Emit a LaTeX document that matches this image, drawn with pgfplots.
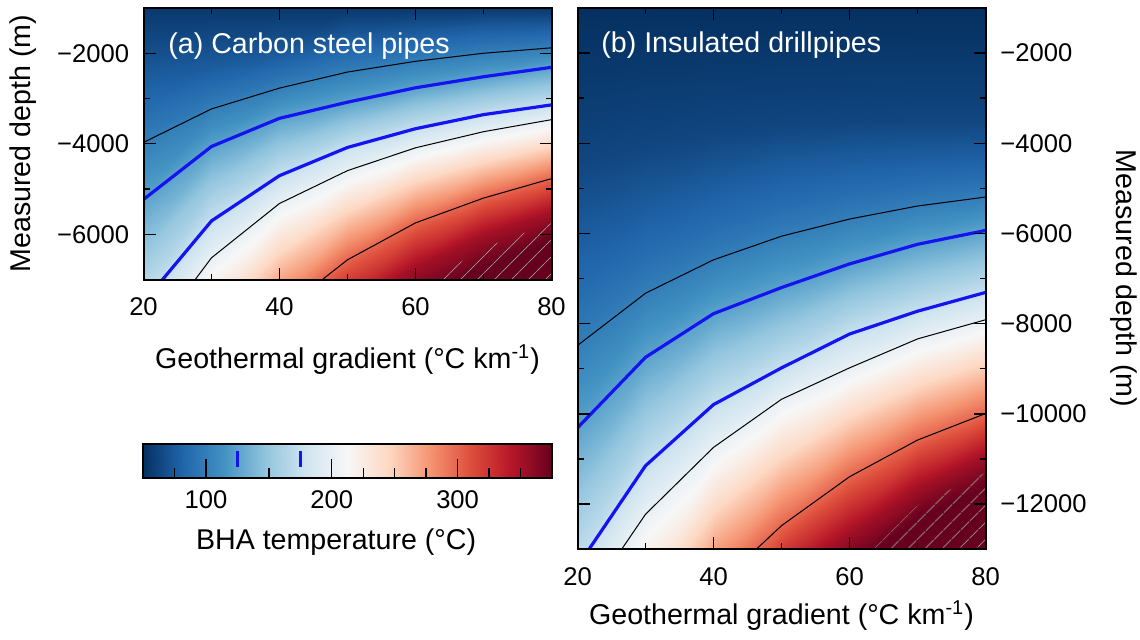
\documentclass[border=0pt]{standalone}
\usepackage{fontspec}
\setmainfont{Liberation Sans}
\usepackage{pgfplots}
\pgfplotsset{compat=1.18}
\usepackage{pgfplotstable}
\usetikzlibrary{patterns.meta}

\pgfplotsset{colormap={rdbur}{rgb255=(5,48,97) rgb255=(33,102,172) rgb255=(67,147,195) rgb255=(146,197,222) rgb255=(209,229,240) rgb255=(247,247,247) rgb255=(253,216,195) rgb255=(245,150,115) rgb255=(222,78,60) rgb255=(182,22,40) rgb255=(103,0,31)}}
\definecolor{cblue}{RGB}{20,20,240}

% Panel (a): each block = one temperature level (depth at x = 20..80)
\pgfplotstableread{
x y T
20 -1000 55
30 -1000 55
40 -1000 55
50 -1000 55
60 -1000 55
70 -1000 55
80 -1000 55
20 -2423 75
30 -2246 75
40 -1985 75
50 -1630 75
60 -1500 75
70 -1403 75
80 -1368 75
20 -3256 87.5
30 -2767 87.5
40 -2402 87.5
50 -2047 87.5
60 -1857 87.5
70 -1716 87.5
80 -1640 87.5
20 -3970 100
30 -3230 100
40 -2770 100
50 -2415 100
60 -2178 100
70 -2000 100
80 -1880 100
20 -5230 125
30 -4060 125
40 -3437 125
50 -3081 125
60 -2763 125
70 -2519 125
80 -2311 125
20 -6367 150
30 -4882 150
40 -4071 150
50 -3581 150
60 -3215 150
70 -2938 150
80 -2726 150
20 -7504 175
30 -5704 175
40 -4704 175
50 -4081 175
60 -3667 175
70 -3356 175
80 -3141 175
20 -8520 200
30 -6519 200
40 -5319 200
50 -4593 200
60 -4089 200
70 -3733 200
80 -3467 200
20 -10260 250
30 -8060 250
40 -6532 250
50 -5578 250
60 -4919 250
70 -4467 250
80 -4119 250
20 -12000 300
30 -9600 300
40 -7744 300
50 -6563 300
60 -5748 300
70 -5200 300
80 -4770 300
20 -14000 350
30 -11000 350
40 -8800 350
50 -7700 350
60 -6700 350
70 -6000 350
80 -5500 350
20 -15500 375
30 -12000 375
40 -9700 375
50 -8500 375
60 -7500 375
70 -6700 375
80 -6100 375
20 -16000 375
30 -16000 375
40 -16000 375
50 -16000 375
60 -16000 375
70 -16000 375
80 -16000 375
}\tabA

% Panel (b)
\pgfplotstableread{
x y T
20 -1000 50
30 -1000 50
40 -1000 50
50 -1000 50
60 -1000 50
70 -1000 50
80 -1000 50
20 -4300 62.5
30 -3950 62.5
40 -3700 62.5
50 -3550 62.5
60 -3480 62.5
70 -3450 62.5
80 -3450 62.5
20 -5876 75
30 -5273 75
40 -4784 75
50 -4404 75
60 -4252 75
70 -4167 75
80 -4121 75
20 -7347 87.5
30 -6463 87.5
40 -5826 87.5
50 -5366 87.5
60 -5085 87.5
70 -4881 87.5
80 -4746 87.5
20 -8483 100
30 -7325 100
40 -6584 100
50 -6060 100
60 -5680 100
70 -5391 100
80 -5192 100
20 -10309 125
30 -8745 125
40 -7778 125
50 -7199 125
60 -6675 125
70 -6240 125
80 -5933 125
20 -11844 150
30 -9948 150
40 -8786 150
50 -8090 150
60 -7453 150
70 -6982 150
80 -6620 150
20 -13379 175
30 -11150 175
40 -9794 175
50 -8980 175
60 -8230 175
70 -7723 175
80 -7307 175
20 -14437 200
30 -12226 200
40 -10743 200
50 -9676 200
60 -8980 200
70 -8338 200
80 -7913 200
20 -16970 250
30 -14363 250
40 -12316 250
50 -11078 250
60 -10187 250
70 -9460 250
80 -8953 250
20 -19500 300
30 -16500 300
40 -13888 300
50 -12479 300
60 -11394 300
70 -10581 300
80 -9993 300
20 -22000 350
30 -18500 350
40 -15500 350
50 -13700 350
60 -12600 350
70 -11600 350
80 -10900 350
20 -24000 375
30 -20000 375
40 -17000 375
50 -14800 375
60 -13400 375
70 -12300 375
80 -11600 375
20 -28000 375
30 -28000 375
40 -28000 375
50 -28000 375
60 -28000 375
70 -28000 375
80 -28000 375
}\tabB

\pgfplotsset{
  panel/.style={
    scale only axis, width=204pt,
    xmin=20, xmax=80,
    xtick={20,40,60,80}, xticklabels={20,40,60,80},
    minor xtick={30,50,70},
    tick align=inside,
    major tick length=6pt, minor tick length=3pt,
    tick style={black, line width=0.7pt},
    axis line style={line width=1pt},
    axis on top,
    colormap name=rdbur, point meta min=50, point meta max=375,
    tick label style={font=\fontsize{12.8}{15}\selectfont, inner sep=0pt},
    xticklabel style={yshift=-9pt},
  },
  contblack/.style={black, line width=0.5pt, no markers},
  contblue/.style={cblue, line width=1.6pt, no markers},
  hatch/.style={draw=none, no markers, pattern={Lines[angle=45,distance=6.5pt,line width=0.55pt]}, pattern color=gray!85},
}

\begin{document}
\begin{tikzpicture}
\useasboundingbox (0,0) rectangle (570pt,-320pt);

% ---------------- (a)
\begin{axis}[panel, at={(71.75pt,-4pt)}, anchor=north west, height=135.8pt,
  ymin=-7000, ymax=-1000,
  ytick={-6000,-4000,-2000}, yticklabels={−6000,−4000,−2000},
  minor ytick={-5000,-3000},
  yticklabel style={xshift=-7pt},
  xlabel={Geothermal gradient (°C km\textsuperscript{-1})},
  ylabel={Measured depth (m)},
  every axis x label/.style={at={(axis description cs:0.5,-0.329)}, anchor=base, font=\fontsize{14.3}{17}\selectfont},
  every axis y label/.style={at={(axis description cs:-0.277,0.5)}, anchor=base, rotate=90, font=\fontsize{14.3}{17}\selectfont},
]
\addplot[surf, shader=interp, mesh/cols=7, point meta=\thisrow{T}] table[x=x, y=y] {\tabA};
\addplot[hatch] coordinates {(60,-7233) (70,-6300) (80,-5750) (80,-7500) (60,-7500)};
\addplot[contblack, restrict expr to domain={\thisrow{T}}{99:101}] table[x=x, y=y] {\tabA};
\addplot[contblue, restrict expr to domain={\thisrow{T}}{124:126}] table[x=x, y=y] {\tabA};
\addplot[contblue, restrict expr to domain={\thisrow{T}}{174:176}] table[x=x, y=y] {\tabA};
\addplot[contblack, restrict expr to domain={\thisrow{T}}{199:201}] table[x=x, y=y] {\tabA};
\addplot[contblack, restrict expr to domain={\thisrow{T}}{299:301}] table[x=x, y=y] {\tabA};
\node[anchor=base west, inner sep=0pt, text=white, font=\fontsize{14.3}{17}\selectfont] at (axis description cs:0.060,0.8306) {(a) Carbon steel pipes};
\end{axis}

% ---------------- (b)
\begin{axis}[panel, at={(288.75pt,-4pt)}, anchor=north west, height=270.6pt,
  ymin=-13000, ymax=-1000,
  ytick={-12000,-10000,-8000,-6000,-4000,-2000},
  yticklabels={−12000,−10000,−8000,−6000,−4000,−2000},
  minor ytick={-11000,-9000,-7000,-5000,-3000},
  yticklabel pos=right,
  yticklabel style={xshift=7.25pt},
  xlabel={Geothermal gradient (°C km\textsuperscript{-1})},
  ylabel={Measured depth (m)},
  every axis x label/.style={at={(axis description cs:0.5,-0.140)}, anchor=base, font=\fontsize{14.3}{17}\selectfont},
  every axis y label/.style={at={(axis description cs:1.320,0.5)}, anchor=base, rotate=-90, font=\fontsize{14.3}{17}\selectfont},
]
\addplot[surf, shader=interp, mesh/cols=7, point meta=\thisrow{T}] table[x=x, y=y] {\tabB};
\addplot[hatch] coordinates {(60,-13417) (70,-12027) (80,-11304) (80,-13500) (60,-13500)};
\addplot[contblack, restrict expr to domain={\thisrow{T}}{99:101}] table[x=x, y=y] {\tabB};
\addplot[contblue, restrict expr to domain={\thisrow{T}}{124:126}] table[x=x, y=y] {\tabB};
\addplot[contblue, restrict expr to domain={\thisrow{T}}{174:176}] table[x=x, y=y] {\tabB};
\addplot[contblack, restrict expr to domain={\thisrow{T}}{199:201}] table[x=x, y=y] {\tabB};
\addplot[contblack, restrict expr to domain={\thisrow{T}}{299:301}] table[x=x, y=y] {\tabB};
\node[anchor=base west, inner sep=0pt, text=white, font=\fontsize{14.3}{17}\selectfont] at (axis description cs:0.0576,0.917) {(b) Insulated drillpipes};
\end{axis}

% ---------------- colour bar
\begin{axis}[scale only axis, at={(71.5pt,-222pt)}, anchor=north west, width=204.5pt, height=17pt,
  xmin=50, xmax=375, ymin=0, ymax=1,
  ytick=\empty,
  xtick={100,200,300}, xticklabels={100,200,300},
  minor xtick={75,150,225,250,275,325,350},
  xtick pos=left, tick align=inside,
  major tick length=9.5pt, minor tick length=4.75pt,
  tick style={black, line width=0.7pt},
  axis line style={line width=1pt},
  axis on top,
  colormap name=rdbur, point meta min=50, point meta max=375,
  tick label style={font=\fontsize{12.8}{15}\selectfont, inner sep=0pt},
  xticklabel style={yshift=-6pt},
  xlabel={BHA temperature (°C)},
  every axis x label/.style={at={(axis description cs:0.472,-2.10)}, anchor=base, font=\fontsize{14.3}{17}\selectfont},
]
\addplot[surf, shader=interp, mesh/cols=14, point meta=x] coordinates {
(50,0) (75,0) (100,0) (125,0) (150,0) (175,0) (200,0) (225,0) (250,0) (275,0) (300,0) (325,0) (350,0) (375,0)
(50,1) (75,1) (100,1) (125,1) (150,1) (175,1) (200,1) (225,1) (250,1) (275,1) (300,1) (325,1) (350,1) (375,1)
};
\addplot[cblue, line width=1.7pt, no markers] coordinates {(125,0.32) (125,0.79)};
\addplot[cblue, line width=1.7pt, no markers] coordinates {(175,0.32) (175,0.79)};
\end{axis}
\end{tikzpicture}
\end{document}
